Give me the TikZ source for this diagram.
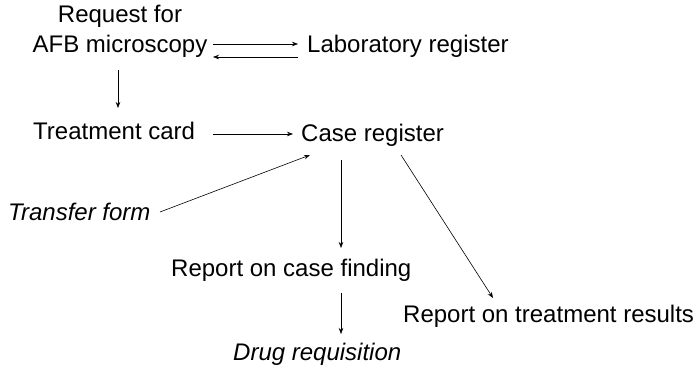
\documentclass[tikz,border=0pt]{standalone}
\usepackage{fontspec}
\setmainfont{Liberation Sans}
\usetikzlibrary{arrows.meta}
\begin{document}
\begin{tikzpicture}[x=1pt,y=-1pt,
  lbl/.style={inner sep=0pt,font=\fontsize{24}{30}\selectfont},
  ilbl/.style={lbl,font=\fontsize{24}{30}\selectfont\itshape},
  flow/.style={-{Stealth[length=6pt,width=4.5pt]},line width=0.6pt}]
\useasboundingbox (0,0) rectangle (699,369);
% documents
\node[lbl,align=center] (req) at (120,31) {Request for\\AFB microscopy};
\node[lbl,anchor=west] (lab) at (307,46) {Laboratory register};
\node[lbl,anchor=west] (card) at (33,131) {Treatment card};
\node[lbl,anchor=west] (case) at (301,135) {Case register};
\node[ilbl,anchor=west] (transfer) at (8,212) {Transfer form};
\node[lbl,anchor=west] (finding) at (171,270) {Report on case finding};
\node[lbl,anchor=west] (results) at (403,316) {Report on treatment results};
\node[ilbl,anchor=west] (drug) at (233,354) {Drug requisition};
% arrow end points next to the documents
\coordinate (reqA) at (213,44);  \coordinate (labA) at (298,44);
\coordinate (labB) at (298,57);  \coordinate (reqB) at (213,57);
\coordinate (reqC) at (118,70);  \coordinate (cardA) at (118,108);
\coordinate (cardB) at (213,134); \coordinate (caseA) at (293,134);
\coordinate (trA) at (160,212);  \coordinate (caseB) at (310,155);
\coordinate (caseC) at (341,160); \coordinate (findA) at (341,248);
\coordinate (caseD) at (401,155); \coordinate (resA) at (493,298);
\coordinate (findB) at (341,293); \coordinate (drugA) at (341,334);
% flows between them
\draw[flow] (reqA) -- (labA);
\draw[flow] (labB) -- (reqB);
\draw[flow] (reqC) -- (cardA);
\draw[flow] (cardB) -- (caseA);
\draw[flow] (trA) -- (caseB);
\draw[flow] (caseC) -- (findA);
\draw[flow] (caseD) -- (resA);
\draw[flow] (findB) -- (drugA);
\end{tikzpicture}
\end{document}
